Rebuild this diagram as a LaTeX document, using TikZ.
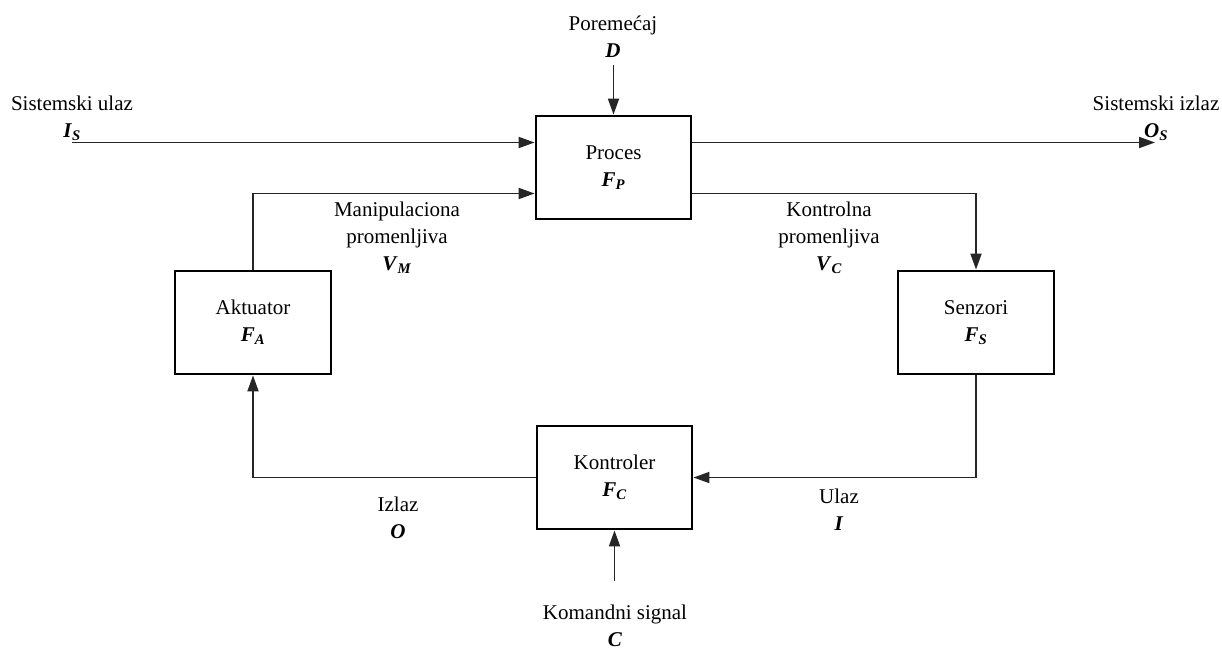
\documentclass[tikz,border=0pt]{standalone}
\usepackage{fontspec}
\setmainfont{Liberation Serif}
\usetikzlibrary{arrows.meta}
\newcommand{\bi}[1]{\textbf{\textit{#1}}}
\newcommand{\bis}[2]{\textbf{\textit{#1}\textsubscript{\textit{#2}}}}
\begin{document}
\begin{tikzpicture}[x=1pt,y=-1pt,
  blok/.style={draw=black,line width=2.8pt,minimum width=155pt,minimum height=103pt,inner sep=0pt,align=center,font=\fontsize{21}{27}\selectfont},
  lbl/.style={align=center,inner sep=0pt,font=\fontsize{21}{27}\selectfont},
  veza/.style={draw=black!85,line width=1.8pt,-{Triangle[length=16pt,width=11pt]}}]
\useasboundingbox (0,0) rectangle (1222,650);
% boxes
\node[blok] (proc) at (613.5,167.5) {Proces\\\bis{F}{P}};
\node[blok,minimum width=156pt] (akt) at (253,322.5) {Aktuator\\\bis{F}{A}};
\node[blok,minimum width=156pt] (sen) at (976,322.5) {Senzori\\\bis{F}{S}};
\node[blok] (kon) at (614.5,477.5) {Kontroler\\\bis{F}{C}};
% labels
\node[lbl] (lpor) at (613,37) {Poremećaj\\\bi{D}};
\node[lbl] (lsu) at (72,118) {Sistemski ulaz\\\bis{I}{S}};
\node[lbl] (lsi) at (1156,118) {Sistemski izlaz\\\bis{O}{S}};
\node[lbl] (lman) at (397,238) {Manipulaciona\\promenljiva\\\bis{V}{M}};
\node[lbl] (lkon) at (829,238) {Kontrolna\\promenljiva\\\bis{V}{C}};
\node[lbl] (liz) at (398,518) {Izlaz\\\bi{O}};
\node[lbl] (lul) at (839,510) {Ulaz\\\bi{I}};
\node[lbl] (lkom) at (615,626) {Komandni signal\\\bi{C}};
% coordinates
\coordinate (isin) at (72,142.5);
\coordinate (osout) at (1155,142.5);
\coordinate (dtop) at (613.5,65);
\coordinate (vm) at (0,193.5);
\coordinate (cin) at (614.5,581);
% connectors
\draw[veza] (isin) -- (isin -| proc.west);
\draw[veza] (proc.east |- isin) -- (osout);
\draw[veza] (dtop) -- (proc.north);
\draw[veza] (akt.north) |- (vm -| proc.west);
\draw[veza] (proc.east |- vm) -| (sen.north);
\draw[veza] (sen.south) |- (kon.east);
\draw[veza] (kon.west) -| (akt.south);
\draw[veza] (cin) -- (kon.south);
\end{tikzpicture}
\end{document}
